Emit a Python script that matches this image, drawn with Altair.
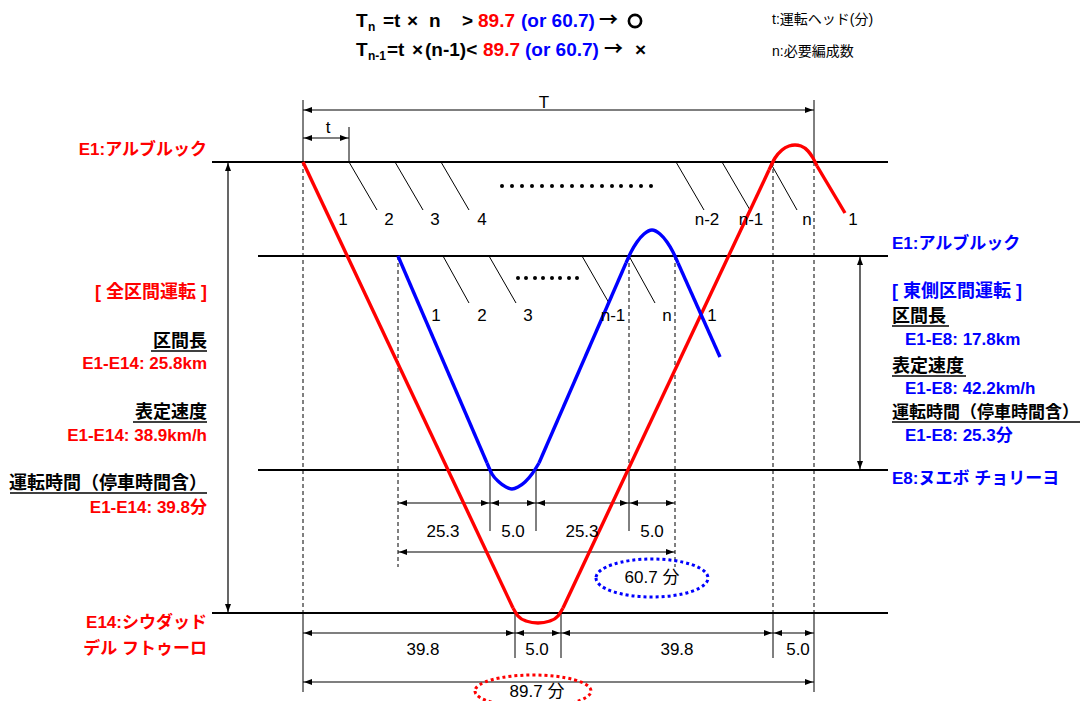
import altair as alt
import pandas as pd

FONT = "Liberation Sans, Noto Sans CJK JP, sans-serif"
ARROW_FONT = "Noto Sans CJK JP, DejaVu Sans, sans-serif"
RED, BLUE, BLACK = "#ff0000", "#0000ff", "#000000"
W, H = 1074, 693

# ---------------- diagram data (diagram units = page pixels) ----------------
# station lines: y, start x, end x
station_y = [162, 256, 470, 613]
station_x1 = [212, 258, 258, 212]
station_x2 = [888, 888, 888, 888]

# red train path (full line E1-E14), segments
red_seg = [0, 0, 1, 1, 1, 1, 1, 1, 1, 2, 2, 3, 3, 3, 3, 3, 3, 3, 3, 3, 4, 4]
red_x = [303, 513, 513, 518, 526, 538, 550, 558, 563, 563, 769,
         769, 775, 782, 789, 795, 801, 808, 813, 817, 817, 845]
red_y = [162, 608, 608, 616, 621, 623, 621, 616, 608, 608, 170,
         170, 158, 150, 146, 145, 146, 151, 158, 166, 166, 213]

# blue train path (eastern section E1-E8), segments
blue_seg = [0, 0, 1, 1, 1, 1, 1, 1, 1, 1, 1, 2, 2, 3, 3, 3, 3, 3, 3, 3, 3, 3, 4, 4]
blue_x = [398, 487, 487, 492, 499, 506, 512, 518, 525, 532, 539, 539, 626,
          626, 631, 637, 644, 652, 660, 667, 673, 678, 678, 720]
blue_y = [256, 463, 463, 474, 482, 487, 489, 487, 482, 474, 463, 463, 263,
          263, 252, 242, 234, 230, 234, 242, 252, 263, 263, 357]

# headway lines (following trains)
head1_x = [349, 395, 441, 676, 722, 770]
head1_x2 = [377, 423, 469, 704, 750, 797]
head1_y, head1_y2 = 162, 210
head2_x = [443, 489, 582, 629]
head2_x2 = [469, 516, 609, 655]
head2_y, head2_y2 = 256, 303

# dotted ellipsis
dots1_x = [502, 512, 522, 532, 542, 552, 562, 572, 582, 592, 602, 612, 621, 631, 641, 651]
dots1_y = 186
dots2_x = [518, 526, 535, 543, 552, 560, 569, 577]
dots2_y = 278

# vertical guide lines: x, y1, y2
solid_v_x = [303, 303, 349, 814, 814, 773, 515, 561, 490, 536, 629]
solid_v_y1 = [100, 613, 127, 100, 613, 613, 613, 613, 470, 470, 470]
solid_v_y2 = [162, 692, 162, 162, 692, 658, 658, 658, 531, 531, 531]
dash_v_x = [303, 814, 773, 398, 629, 675]
dash_v_y1 = [162, 162, 162, 256, 256, 256]
dash_v_y2 = [613, 613, 613, 567, 470, 567]

# horizontal dimension arrows: y, x1, x2
dim_y = [110, 138, 503, 503, 503, 503, 552, 633, 633, 633, 633, 682]
dim_x1 = [303, 303, 398, 490, 536, 629, 398, 303, 515, 561, 773, 303]
dim_x2 = [814, 349, 490, 536, 629, 675, 675, 515, 561, 773, 814, 814]
# vertical dimension arrows: x, y1, y2
vdim_x = [228, 860]
vdim_y1 = [162, 256]
vdim_y2 = [613, 470]

# regular (non-bold) labels: text, x, y
reg_text = ["T", "t", "1", "2", "3", "4", "n-2", "n-1", "n", "1",
            "1", "2", "3", "n-1", "n", "1",
            "25.3", "5.0", "25.3", "5.0", "60.7 分",
            "39.8", "5.0", "39.8", "5.0", "89.7 分"]
reg_x = [544, 328, 343, 389, 435, 482, 707, 751, 807, 853,
         436, 482, 528, 613, 667, 712,
         443, 513, 582, 652, 652,
         423, 537, 677, 798, 537]
reg_y = [103, 128, 220, 220, 220, 220, 220, 220, 220, 220,
         316, 316, 316, 316, 316, 316,
         532, 532, 532, 532, 578,
         650, 650, 650, 650, 692]

note_text = ["t:運転ヘッド(分)", "n:必要編成数"]
note_x = [772, 772]
note_y = [20, 52]

# formula (bold, left aligned)
form_text = ["T", "n", "=t", "×", "n", ">", "89.7", "(or 60.7)",
             "T", "n-1", "=t", "×", "(n-1)<", "89.7", "(or 60.7)", "×"]
form_x = [356, 368, 383, 407, 429, 462, 478, 521,
          356, 368, 387, 412, 425, 483, 525, 635]
form_y = [21, 27, 21, 21, 21, 21, 21, 21,
          50, 56, 50, 50, 50, 50, 50, 50]
form_color = [BLACK] * 6 + [RED, BLUE] + [BLACK] * 5 + [RED, BLUE, BLACK]
form_size = [19, 12, 19, 19, 19, 19, 19, 19, 19, 12, 19, 19, 19, 19, 19, 19]
arrow_x = [599, 604]
arrow_y = [21, 50]
ring_x, ring_y = [635], [21]

# left side labels (bold, right aligned at x=207)
left_text = ["E1:アルブルック", "[ 全区間運転 ]", "区間長", "E1-E14: 25.8km", "表定速度",
             "E1-E14: 38.9km/h", "運転時間（停車時間含）", "E1-E14: 39.8分",
             "E14:シウダッド", "デル フトゥーロ"]
left_y = [150, 293, 342, 364, 413, 436, 484, 508, 623, 649]
left_color = [RED, RED, BLACK, RED, BLACK, RED, BLACK, RED, RED, RED]
left_size = [17, 18, 18, 17, 18, 17, 18, 17, 17, 17]

# right side labels (bold, left aligned)
right_text = ["E1:アルブルック", "[ 東側区間運転 ]", "区間長", "E1-E8: 17.8km", "表定速度",
              "E1-E8: 42.2km/h", "運転時間（停車時間含）", "E1-E8: 25.3分", "E8:ヌエボ チョリーヨ"]
right_x = [892, 892, 892, 905, 892, 905, 892, 905, 892]
right_y = [244, 292, 317, 340, 367, 389, 413, 436, 479]
right_color = [BLUE, BLUE, BLACK, BLUE, BLACK, BLUE, BLACK, BLUE, BLUE]
right_size = [17, 18, 18, 17, 18, 17, 17, 17, 17]

# underlines under the black headings: y, x1, x2
ul_y = [351, 422, 493, 326, 376, 422]
ul_x1 = [151, 133, 10, 892, 892, 892]
ul_x2 = [207, 207, 207, 949, 966, 1080]

# dotted ellipses: centre x, y, rx, ry, colour
ell_x = [652, 533]
ell_y = [578, 691]
ell_rx = [56, 58]
ell_ry = [19, 16]
ell_color = [BLUE, RED]

# ---------------- chart ----------------
xs = alt.Scale(domain=[8, 8 + W], nice=False, zero=False)
ys = alt.Scale(domain=[8, 8 + H], nice=False, zero=False, reverse=True)


def X(f="x"):
    return alt.X(f"{f}:Q", scale=xs, axis=None)


def Y(f="y"):
    return alt.Y(f"{f}:Q", scale=ys, axis=None)


layers = []

# station lines
st = pd.DataFrame({"y": station_y, "x": station_x1, "x2": station_x2})
layers.append(alt.Chart(st).mark_rule(color=BLACK, strokeWidth=2.2).encode(
    x=X(), x2="x2:Q", y=Y()))

# verticals
sv = pd.DataFrame({"x": solid_v_x, "y": solid_v_y1, "y2": solid_v_y2})
layers.append(alt.Chart(sv).mark_rule(color=BLACK, strokeWidth=1).encode(
    x=X(), y=Y(), y2="y2:Q"))
dv = pd.DataFrame({"x": dash_v_x, "y": dash_v_y1, "y2": dash_v_y2})
layers.append(alt.Chart(dv).mark_rule(color=BLACK, strokeWidth=1, strokeDash=[4, 3]).encode(
    x=X(), y=Y(), y2="y2:Q"))

# dimension lines
dh = pd.DataFrame({"y": dim_y, "x": dim_x1, "x2": dim_x2})
layers.append(alt.Chart(dh).mark_rule(color=BLACK, strokeWidth=1.2).encode(
    x=X(), x2="x2:Q", y=Y()))
vd = pd.DataFrame({"x": vdim_x, "y": vdim_y1, "y2": vdim_y2})
layers.append(alt.Chart(vd).mark_rule(color=BLACK, strokeWidth=1.2).encode(
    x=X(), y=Y(), y2="y2:Q"))

# arrowheads
P_R = "M0,0L-8,-3L-8,3Z"
P_L = "M0,0L8,-3L8,3Z"
P_U = "M0,0L-3,8L3,8Z"
P_D = "M0,0L-3,-8L3,-8Z"
ah = []
for y, a, b in zip(dim_y, dim_x1, dim_x2):
    ah.append({"x": a + 1, "y": y, "shape": P_L})
    ah.append({"x": b - 1, "y": y, "shape": P_R})
for x, a, b in zip(vdim_x, vdim_y1, vdim_y2):
    ah.append({"x": x, "y": a + 1, "shape": P_U})
    ah.append({"x": x, "y": b - 1, "shape": P_D})
layers.append(alt.Chart(pd.DataFrame(ah)).mark_point(
    filled=True, color=BLACK, size=4, opacity=1, strokeWidth=0).encode(
    x=X(), y=Y(), shape=alt.Shape("shape:N", scale=None)))

# headway lines
hw = pd.DataFrame({
    "x": head1_x + head2_x,
    "x2": head1_x2 + head2_x2,
    "y": [head1_y] * len(head1_x) + [head2_y] * len(head2_x),
    "y2": [head1_y2] * len(head1_x) + [head2_y2] * len(head2_x),
})
layers.append(alt.Chart(hw).mark_rule(color=BLACK, strokeWidth=1).encode(
    x=X(), x2="x2:Q", y=Y(), y2="y2:Q"))

# dots
dd = pd.DataFrame({"x": dots1_x + dots2_x,
                   "y": [dots1_y] * len(dots1_x) + [dots2_y] * len(dots2_x)})
layers.append(alt.Chart(dd).mark_circle(color=BLACK, size=16, opacity=1).encode(x=X(), y=Y()))

# train paths
rp = pd.DataFrame({"x": red_x, "y": red_y, "seg": red_seg, "i": range(len(red_x))})
layers.append(alt.Chart(rp).mark_line(color=RED, strokeWidth=3.4, interpolate="monotone").encode(
    x=X(), y=Y(), detail="seg:N", order="i:Q"))
bp = pd.DataFrame({"x": blue_x, "y": blue_y, "seg": blue_seg, "i": range(len(blue_x))})
layers.append(alt.Chart(bp).mark_line(color=BLUE, strokeWidth=3.4, interpolate="monotone").encode(
    x=X(), y=Y(), detail="seg:N", order="i:Q"))

# ellipses
for cx, cy, rx, ry, c in zip(ell_x, ell_y, ell_rx, ell_ry, ell_color):
    path = f"M{-rx},0A{rx},{ry},0,1,0,{rx},0A{rx},{ry},0,1,0,{-rx},0Z"
    layers.append(alt.Chart(pd.DataFrame({"x": [cx], "y": [cy]})).mark_point(
        shape=path, size=4, filled=False, stroke=c, strokeWidth=3,
        strokeDash=[3, 3], opacity=1).encode(x=X(), y=Y()))

# underlines
ul = pd.DataFrame({"y": ul_y, "x": ul_x1, "x2": ul_x2})
layers.append(alt.Chart(ul).mark_rule(color=BLACK, strokeWidth=1.5).encode(
    x=X(), x2="x2:Q", y=Y()))

# regular labels
rg = pd.DataFrame({"text": reg_text, "x": reg_x, "y": reg_y})
layers.append(alt.Chart(rg).mark_text(font=FONT, fontSize=17, align="center",
                                      baseline="middle", color=BLACK).encode(
    x=X(), y=Y(), text="text:N"))
nt = pd.DataFrame({"text": note_text, "x": note_x, "y": note_y})
layers.append(alt.Chart(nt).mark_text(font=FONT, fontSize=14, align="left",
                                      baseline="middle", color=BLACK).encode(
    x=X(), y=Y(), text="text:N"))

# formula
fm = pd.DataFrame({"text": form_text, "x": form_x, "y": form_y,
                   "color": form_color, "size": form_size})
layers.append(alt.Chart(fm).mark_text(font=FONT, fontWeight="bold", align="left",
                                      baseline="middle").encode(
    x=X(), y=Y(), text="text:N", color=alt.Color("color:N", scale=None),
    size=alt.Size("size:Q", scale=None)))
ar = pd.DataFrame({"x": arrow_x, "y": arrow_y, "text": ["→", "→"]})
layers.append(alt.Chart(ar).mark_text(font=ARROW_FONT, fontWeight="bold", fontSize=19,
                                      align="left", baseline="middle", color=BLACK).encode(
    x=X(), y=Y(), text="text:N"))
layers.append(alt.Chart(pd.DataFrame({"x": ring_x, "y": ring_y})).mark_point(
    shape="circle", size=150, filled=False, stroke=BLACK, strokeWidth=2.6, opacity=1).encode(
    x=X(), y=Y()))

# side labels
lf = pd.DataFrame({"text": left_text, "x": [207] * len(left_text), "y": left_y,
                   "color": left_color, "size": left_size})
layers.append(alt.Chart(lf).mark_text(font=FONT, fontWeight="bold", align="right",
                                      baseline="middle").encode(
    x=X(), y=Y(), text="text:N", color=alt.Color("color:N", scale=None),
    size=alt.Size("size:Q", scale=None)))
rt = pd.DataFrame({"text": right_text, "x": right_x, "y": right_y,
                   "color": right_color, "size": right_size})
layers.append(alt.Chart(rt).mark_text(font=FONT, fontWeight="bold", align="left",
                                      baseline="middle").encode(
    x=X(), y=Y(), text="text:N", color=alt.Color("color:N", scale=None),
    size=alt.Size("size:Q", scale=None)))

chart = alt.layer(*layers).properties(
    width=W, height=H, padding=0, background="white",
    autosize=alt.AutoSizeParams(type="none"),
).configure_view(stroke=None)

chart.save("out.html", embed_options={"renderer": "svg", "actions": False})
